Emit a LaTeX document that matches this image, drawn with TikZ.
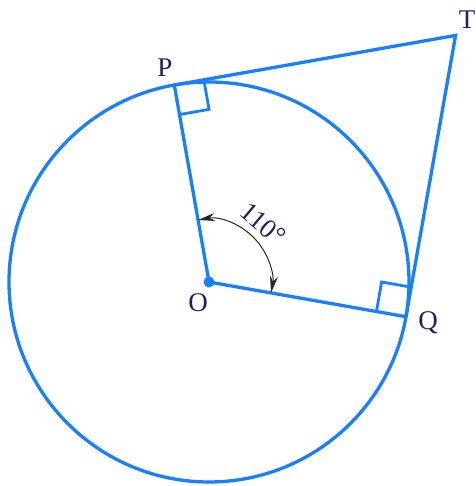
\documentclass[tikz,border=0pt]{standalone}
\usepackage{fontspec}
\setmainfont{Liberation Serif}
\usetikzlibrary{calc,arrows.meta}
\definecolor{lineblue}{RGB}{24,128,255}
\definecolor{labcol}{RGB}{38,28,100}
\begin{document}
\begin{tikzpicture}[x=1pt,y=1pt,
  geo/.style={draw=lineblue,line width=3.3pt},
  rightmark/.style={draw=lineblue,line width=2.8pt},
  lab/.style={text=labcol,font=\fontsize{27}{29}\selectfont,inner sep=0pt}]
\useasboundingbox (0,0) rectangle (475,486);
\coordinate (O) at (209,204);
\coordinate (P) at ($(O)+(100:200)$);
\coordinate (Q) at ($(O)+(-10:200)$);
\coordinate (T) at ($(O)+(45:348.7)$);
% circle
\draw[geo] (O) circle[radius=200];
% radii and tangents
\draw[geo,line join=round] (P) -- (O) -- (Q);
\draw[geo,line join=miter] (P) -- (T) -- (Q);
% right angle marks
\draw[rightmark] ($(P)!30pt!(O)$) -- ($($(P)!30pt!(O)$)+($(P)!30pt!(T)$)-(P)$) -- ($(P)!30pt!(T)$);
\draw[rightmark] ($(Q)!30pt!(O)$) -- ($($(Q)!30pt!(O)$)+($(Q)!30pt!(T)$)-(Q)$) -- ($(Q)!30pt!(T)$);
% centre dot
\fill[lineblue] (O) circle[radius=5.5];
% angle arc
\draw[black!85,line width=1pt,{Stealth[length=17pt,width=8pt]}-{Stealth[length=17pt,width=8pt]}]
  ($(O)+(100:63)$) arc[start angle=100,end angle=-10,radius=63];
% labels
\node[lab] (lP) at (165,418) {P};
\node[lab] (lT) at (467,466) {T};
\node[lab] (lO) at (198,183) {O};
\node[lab] (lQ) at (428,163) {Q};
\node[lab,rotate=-40] (lang) at (263,262) {110\textdegree};
\end{tikzpicture}
\end{document}
